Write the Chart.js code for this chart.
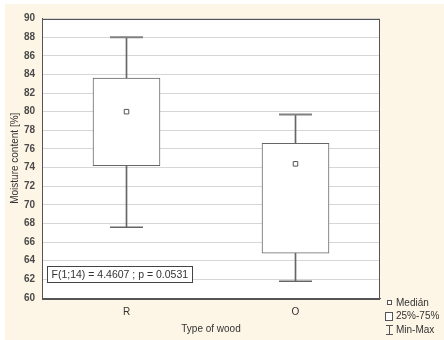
<!DOCTYPE html>
<html>
<head>
<meta charset="utf-8">
<script src="https://cdn.jsdelivr.net/npm/chart.js@4"></script>
<style>
html,body{margin:0;padding:0;background:#ffffff;}
#wrap{width:444px;height:340px;position:relative;}
canvas{display:block;}
</style>
</head>
<body>
<div id="wrap"><canvas id="c" width="444" height="340"></canvas></div>
<script>
// ---- data ----
const categories = ['R', 'O'];
const minValues = [67.6, 61.8];
const q1Values = [74.2, 64.8];
const medianValues = [80.0, 74.4];
const q3Values = [83.6, 76.6];
const maxValues = [88.0, 79.7];
const yTickValues = [60, 62, 64, 66, 68, 70, 72, 74, 76, 78, 80, 82, 84, 86, 88, 90];
const xAxisTitle = 'Type of wood';
const yAxisTitle = 'Moisture content [%]';
const statText = 'F(1;14) = 4.4607 ; p = 0.0531';
const legendLabels = ['Medián', '25%-75%', 'Min-Max'];

const FONT = "'Liberation Sans', Arial, sans-serif";
const TEXT = '#333333';
Chart.defaults.font.family = FONT;
Chart.defaults.font.size = 10;
Chart.defaults.color = TEXT;

const backgroundPlugin = {
  id: 'bg',
  beforeDraw(chart) {
    const {ctx, width, height, chartArea: a} = chart;
    ctx.save();
    ctx.fillStyle = '#ffffff';
    ctx.fillRect(0, 0, width, height);
    ctx.fillStyle = '#fdf6e6';
    ctx.fillRect(5, 4, width - 5, height - 4);
    ctx.fillStyle = '#ffffff';
    ctx.fillRect(a.left, a.top, a.right - a.left, a.bottom - a.top);
    ctx.restore();
  }
};

const framePlugin = {
  id: 'frame',
  afterDraw(chart) {
    const {ctx, chartArea: a} = chart;
    ctx.save();
    ctx.strokeStyle = '#555555';
    ctx.lineWidth = 1;
    ctx.strokeRect(Math.round(a.left) + 0.5, Math.round(a.top) + 0.5,
                   Math.round(a.right - a.left) - 1, Math.round(a.bottom - a.top));

    // statistic annotation box
    ctx.font = '10.5px ' + FONT;
    const tw = ctx.measureText(statText).width;
    const bx = Math.round(a.left) + 5.5, by = Math.round(a.bottom) - 31.5;
    const bw = Math.round(tw + 8), bh = 16;
    ctx.fillStyle = '#ffffff';
    ctx.fillRect(bx, by, bw, bh);
    ctx.strokeStyle = '#444444';
    ctx.strokeRect(bx, by, bw, bh);
    ctx.fillStyle = TEXT;
    ctx.textBaseline = 'middle';
    ctx.textAlign = 'left';
    ctx.fillText(statText, bx + 4, by + bh / 2 + 0.5);

    // legend
    const lx = Math.round(a.right) + 6;
    const ly = Math.round(a.bottom);
    ctx.strokeStyle = '#555555';
    ctx.fillStyle = '#ffffff';
    ctx.fillRect(lx + 1.5, ly + 2.5, 4, 4);
    ctx.strokeRect(lx + 1.5, ly + 2.5, 4, 4);
    ctx.fillRect(lx - 0.5, ly + 14.5, 7, 8);
    ctx.strokeRect(lx - 0.5, ly + 14.5, 7, 8);
    ctx.beginPath();
    ctx.moveTo(lx + 3.5, ly + 27); ctx.lineTo(lx + 3.5, ly + 37);
    ctx.moveTo(lx, ly + 27.5); ctx.lineTo(lx + 7, ly + 27.5);
    ctx.moveTo(lx, ly + 36.5); ctx.lineTo(lx + 7, ly + 36.5);
    ctx.stroke();
    ctx.fillStyle = TEXT;
    ctx.font = '10px ' + FONT;
    ctx.textBaseline = 'middle';
    ctx.fillText(legendLabels[0], lx + 10, ly + 5);
    ctx.fillText(legendLabels[1], lx + 10, ly + 18.5);
    ctx.fillText(legendLabels[2], lx + 10, ly + 32);
    ctx.restore();
  }
};

new Chart(document.getElementById('c'), {
  type: 'bar',
  data: {
    labels: categories,
    datasets: [
      {
        type: 'bar',
        label: legendLabels[1],
        data: categories.map((c, i) => [q1Values[i], q3Values[i]]),
        backgroundColor: '#ffffff',
        borderColor: '#666666',
        borderWidth: 1,
        borderSkipped: false,
        barThickness: 67,
        grouped: false,
        order: 1
      },
      {
        type: 'bar',
        label: legendLabels[2],
        data: categories.map((c, i) => [minValues[i], maxValues[i]]),
        backgroundColor: '#666666',
        borderWidth: 0,
        barThickness: 1,
        grouped: false,
        order: 2
      },
      {
        type: 'line',
        label: 'max',
        data: maxValues,
        showLine: false,
        pointStyle: 'line',
        pointRadius: 16.5,
        borderColor: '#808080',
        borderWidth: 2,
        order: 0
      },
      {
        type: 'line',
        label: 'min',
        data: minValues,
        showLine: false,
        pointStyle: 'line',
        pointRadius: 16.5,
        borderColor: '#666666',
        borderWidth: 1.5,
        order: 0
      },
      {
        type: 'line',
        label: legendLabels[0],
        data: medianValues,
        showLine: false,
        pointStyle: 'rect',
        pointRadius: 3.2,
        backgroundColor: '#ffffff',
        borderColor: '#555555',
        borderWidth: 1,
        order: 0
      }
    ]
  },
  options: {
    responsive: false,
    animation: false,
    devicePixelRatio: 1,
    events: [],
    layout: { padding: { left: 0, right: 64, top: 15, bottom: 0 } },
    plugins: { legend: { display: false }, tooltip: { enabled: false } },
    scales: {
      x: {
        offset: true,
        grid: { display: false, drawTicks: false },
        border: { display: true, color: '#555555', width: 1 },
        ticks: { padding: 8, color: TEXT, font: { size: 10 } },
        title: { display: true, text: xAxisTitle, color: TEXT, font: { size: 10 }, padding: { top: 0, bottom: 5 } },
        afterFit(scale) { scale.height = 42; }
      },
      y: {
        min: 60,
        max: 90,
        afterBuildTicks(scale) { scale.ticks = yTickValues.map(v => ({ value: v })); },
        grid: { color: '#d6d6d6', drawTicks: false, lineWidth: 1 },
        border: { display: true, color: '#555555', width: 1 },
        ticks: { padding: 7, color: '#4a4a4a', font: { size: 10, weight: 'bold' } },
        title: { display: true, text: yAxisTitle, color: TEXT, font: { size: 10 }, padding: { top: 9, bottom: 0 } },
        afterFit(scale) { scale.width = 42; }
      }
    }
  },
  plugins: [backgroundPlugin, framePlugin]
});
</script>
</body>
</html>
